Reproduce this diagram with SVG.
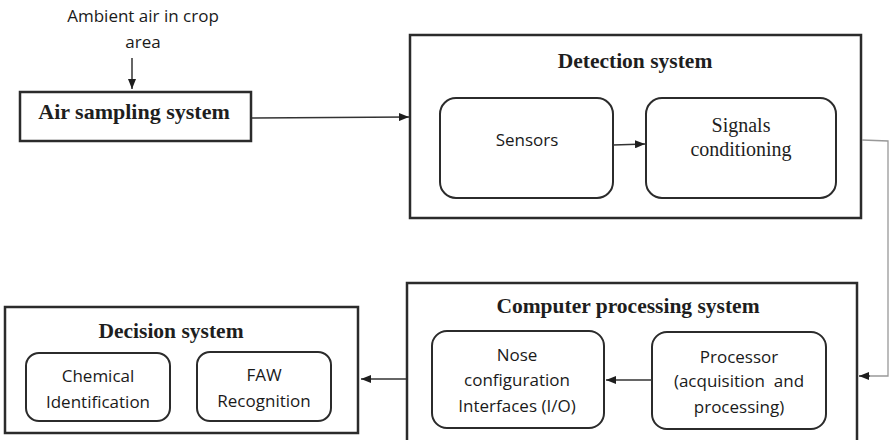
<svg xmlns="http://www.w3.org/2000/svg" width="889" height="440" viewBox="0 0 889 440">
<style>
.box{fill:#fff;stroke:#2b2b2b;stroke-width:2.5}
.rbox{fill:#fff;stroke:#2b2b2b;stroke-width:2}
.title{font-family:"Liberation Serif",serif;font-weight:bold;font-size:21.5px;fill:#1e1e1e;text-anchor:middle}
.serif{font-family:"Liberation Serif",serif;font-size:20px;fill:#1e1e1e;text-anchor:middle}
.sans{font-family:"Open Sans","Noto Sans",sans-serif;font-size:17px;fill:#1a1a1a;text-anchor:middle}
.line{stroke:#333;stroke-width:1.5;fill:none}
.gline{stroke:#999;stroke-width:1.3;fill:none}
</style>
<defs>
<marker id="ah" markerWidth="10" markerHeight="8" refX="10" refY="4" orient="auto" markerUnits="userSpaceOnUse">
<path d="M0,0 L10,4 L0,8 Z" fill="#1e1e1e"/>
</marker>
</defs>
<g id="ambient">
<text class="sans" x="143" y="22">Ambient air in crop</text>
<text class="sans" x="143" y="48">area</text>
</g>
<g id="air-sampling">
<rect class="box" x="20" y="92" width="231" height="49"/>
<text class="title" x="134" y="119" style="font-size:22px">Air sampling system</text>
</g>
<g id="detection">
<rect class="box" x="410" y="35" width="451" height="183"/>
<text class="title" x="635" y="68">Detection system</text>
</g>
<g id="sensors">
<rect class="rbox" x="440" y="98" width="173" height="100" rx="16"/>
<text class="sans" x="527" y="146">Sensors</text>
</g>
<g id="signals">
<rect class="rbox" x="646" y="98" width="190" height="100" rx="16"/>
<text class="serif" x="741" y="132">Signals</text>
<text class="serif" x="741" y="156">conditioning</text>
</g>
<g id="computer">
<rect class="box" x="407" y="283" width="450" height="170"/>
<text class="title" x="628" y="313">Computer processing system</text>
</g>
<g id="nose">
<rect class="rbox" x="432" y="331" width="172" height="97" rx="15"/>
<text class="sans" x="517" y="361">Nose</text>
<text class="sans" x="517" y="386">configuration</text>
<text class="sans" x="517" y="412">Interfaces (I/O)</text>
</g>
<g id="processor">
<rect class="rbox" x="652" y="332" width="174" height="97" rx="15"/>
<text class="sans" x="739" y="363">Processor</text>
<text class="sans" x="739" y="387" xml:space="preserve">(acquisition  and</text>
<text class="sans" x="739" y="413">processing)</text>
</g>
<g id="decision">
<rect class="box" x="5" y="307" width="353" height="126"/>
<text class="title" x="171" y="338">Decision system</text>
</g>
<g id="chemical">
<rect class="rbox" x="26" y="353" width="144" height="68" rx="13"/>
<text class="sans" x="98" y="382">Chemical</text>
<text class="sans" x="98" y="408">Identification</text>
</g>
<g id="faw">
<rect class="rbox" x="197" y="352" width="134" height="69" rx="13"/>
<text class="sans" x="264" y="381">FAW</text>
<text class="sans" x="264" y="407">Recognition</text>
</g>
<g id="connectors">
<line class="line" x1="132" y1="58" x2="132" y2="89" marker-end="url(#ah)"/>
<line class="line" x1="252" y1="118" x2="409" y2="117" marker-end="url(#ah)"/>
<line class="line" x1="613" y1="145" x2="645" y2="144" marker-end="url(#ah)"/>
<polyline class="gline" points="862,140 888,141 888,376 870,376"/>
<line class="line" x1="870" y1="376" x2="859" y2="376" marker-end="url(#ah)"/>
<line class="line" x1="652" y1="380" x2="606" y2="380" marker-end="url(#ah)"/>
<line class="line" x1="406" y1="379" x2="361" y2="379" marker-end="url(#ah)"/>
</g>
</svg>
